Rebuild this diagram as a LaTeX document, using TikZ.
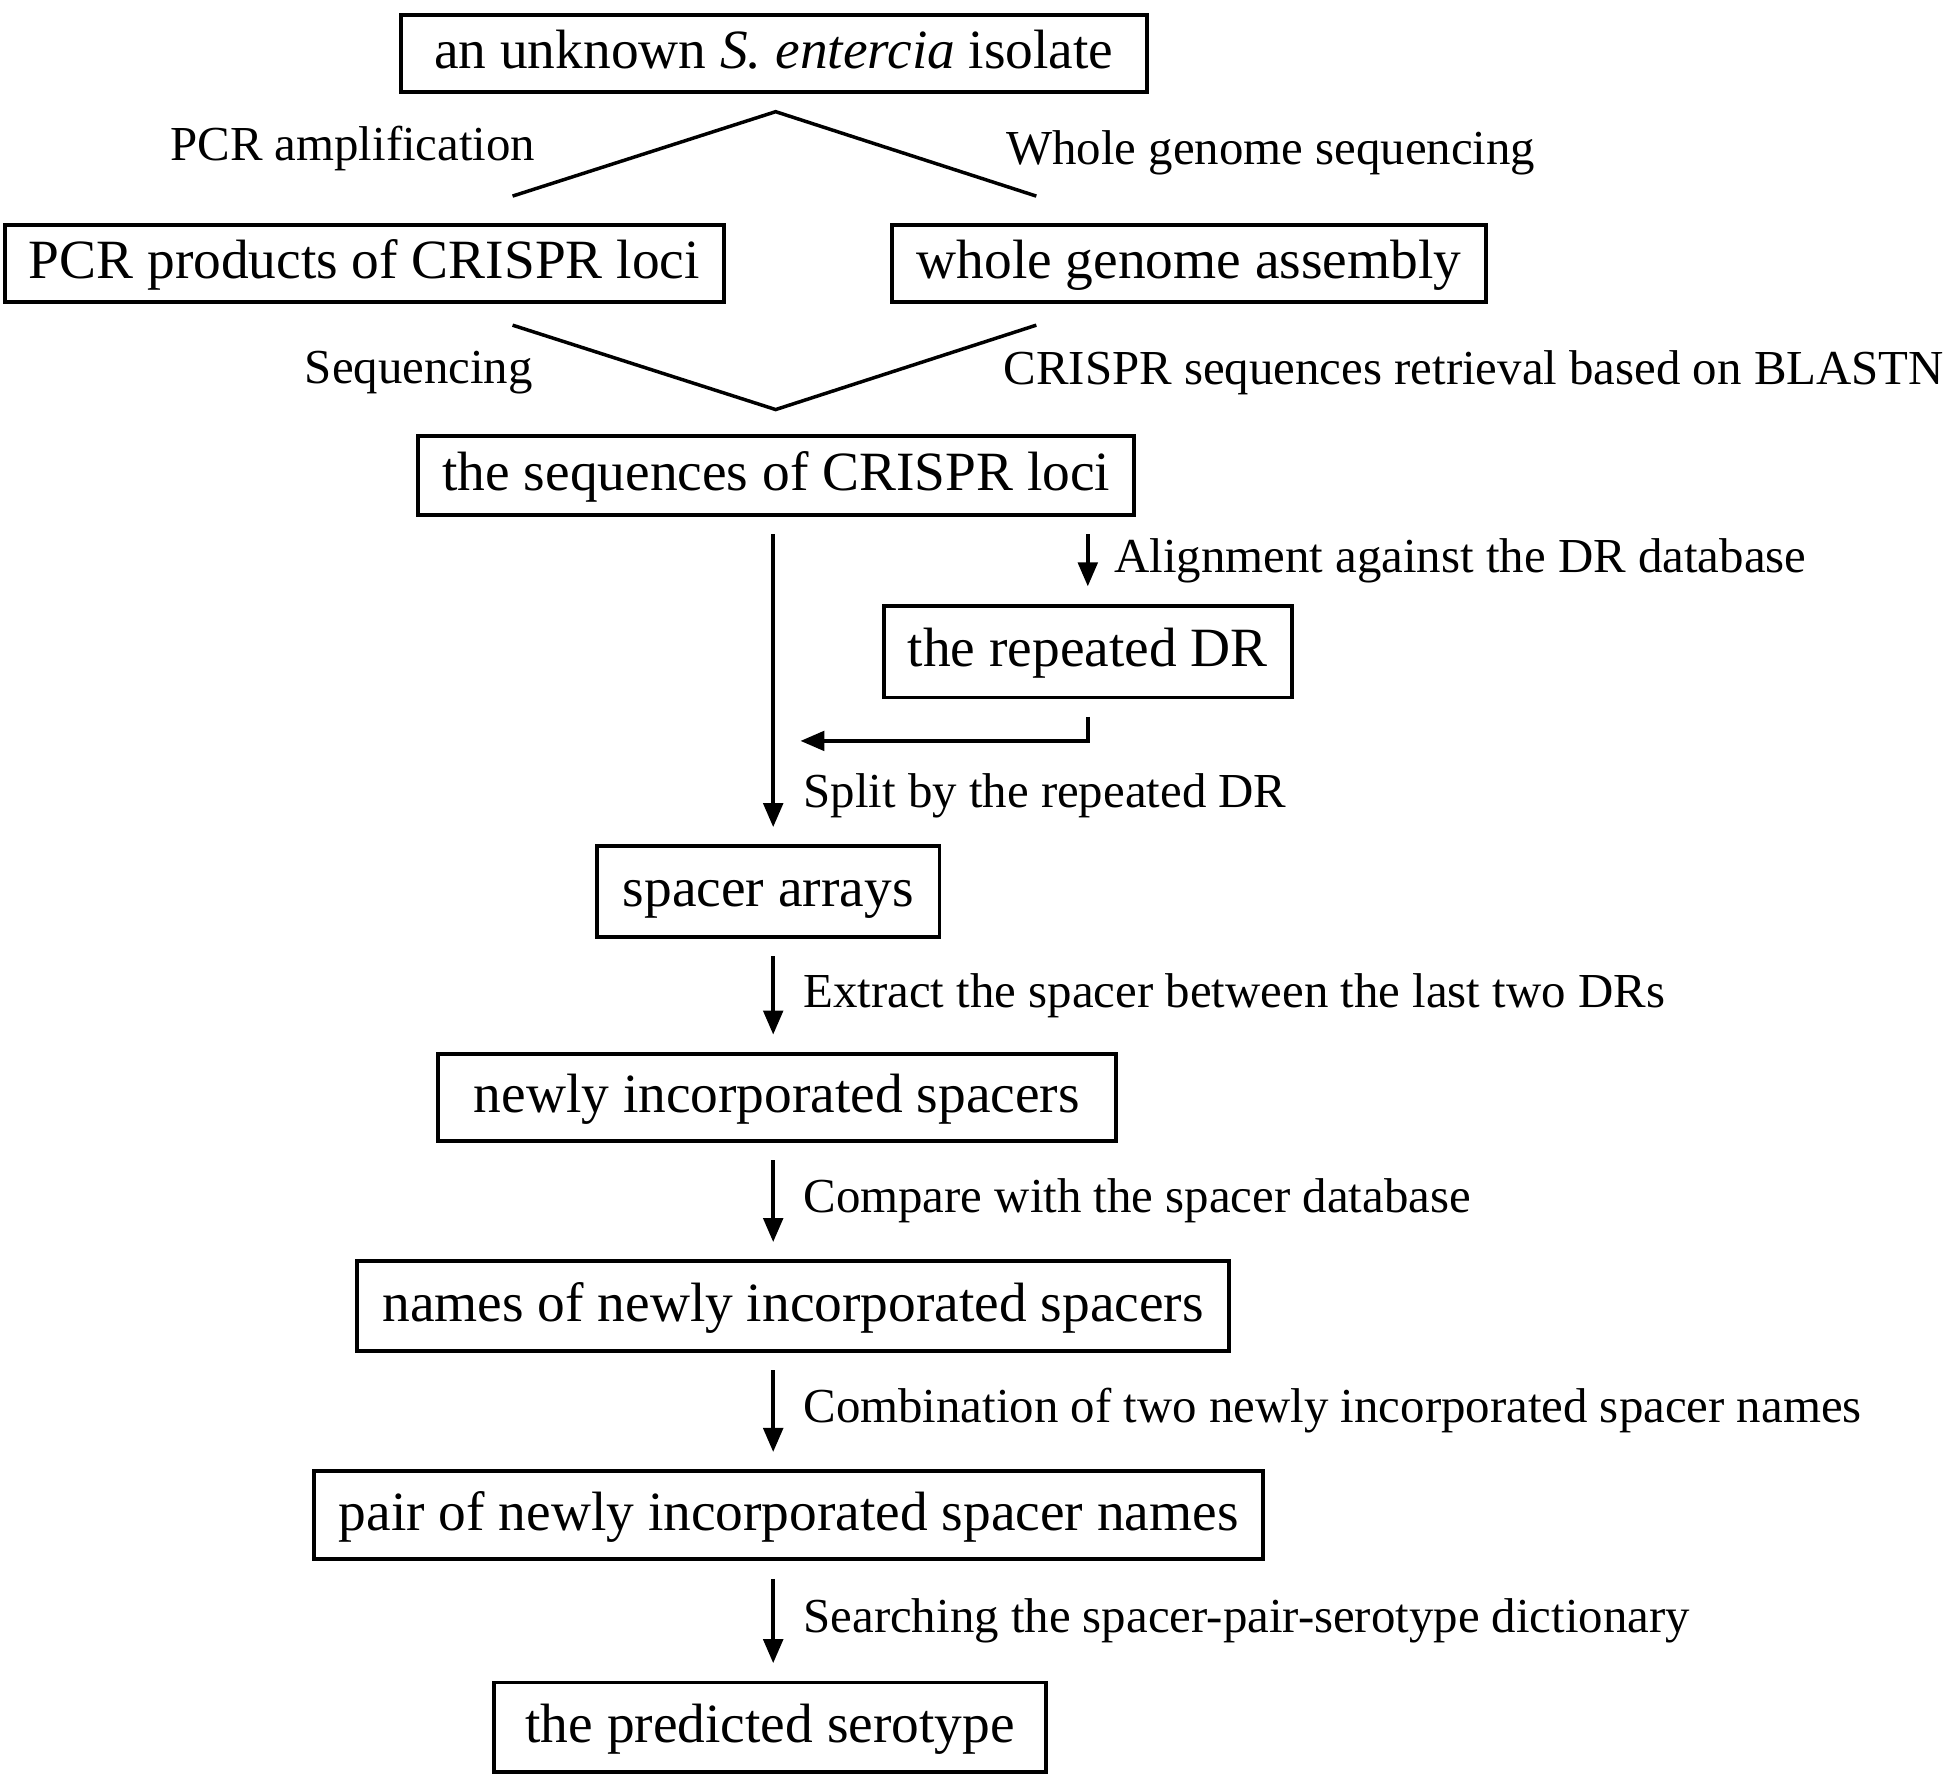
\documentclass[tikz,border=0pt]{standalone}
\usepackage{fontspec}
\setmainfont{Liberation Serif}
\usepackage{tikz}
\usetikzlibrary{arrows.meta,positioning}
\tikzstyle{block} = [rectangle, draw, line width=0.9pt, inner sep=0pt,
    minimum height=0.71cm, text height=0.7em, text depth=0pt,
    font=\fontsize{12.7}{15}\selectfont]
\tikzstyle{line} = [draw, line width=0.8pt, -{Triangle[width=4.5pt,length=5.5pt]},
    shorten <=0.14cm, shorten >=0.14cm]
\tikzstyle{note} = [inner sep=0pt, font=\fontsize{11.2}{13}\selectfont]

\begin{document}
\begin{tikzpicture}[node distance=0.94cm]
            \useasboundingbox (0,0) rectangle (15.68,-14.32);

            % Isolate and the two routes
            \node [block, minimum width=6.01cm, minimum height=0.62cm] (isolate) at (6.235,-0.43) {an unknown \textit{S. entercia} isolate};
            \node [block, minimum width=5.79cm, minimum height=0.62cm] (pcr) at (2.935,-2.12) {PCR products of CRISPR loci};
            \node [block, minimum width=4.78cm, minimum height=0.62cm] (wga) at (9.58,-2.12) {whole genome assembly};
            \node [block, minimum width=5.77cm, minimum height=0.64cm] (loci) at (6.255,-3.83) {the sequences of CRISPR loci};

            % Repeat and spacer chain
            \node [block, minimum width=3.29cm, minimum height=0.74cm] (dr) at (8.765,-5.25) {the repeated DR};
            \node [block, minimum width=2.76cm, minimum height=0.73cm] (arrays) at (6.19,-7.185) {spacer arrays};
            \node [block, minimum width=5.46cm, minimum height=0.70cm] (newsp) [below=0.91cm of arrays, xshift=0.07cm] {newly incorporated spacers};
            \node [block, minimum width=7.02cm, minimum height=0.72cm] (names) [below=of newsp, xshift=0.13cm] {names of newly incorporated spacers};
            \node [block, minimum width=7.65cm, minimum height=0.71cm] (pair) [below=of names, xshift=-0.035cm] {pair of newly incorporated spacer names};
            \node [block, minimum width=4.45cm, minimum height=0.72cm] (serotype) [below=0.96cm of pair, xshift=-0.15cm] {the predicted serotype};

            % Fork and merge
            \coordinate (apexup) at (6.25,-0.90);
            \coordinate (pcrup) at (4.13,-1.58);
            \coordinate (wgaup) at (8.35,-1.58);
            \coordinate (apexdown) at (6.25,-3.30);
            \coordinate (pcrdown) at (4.13,-2.62);
            \coordinate (wgadown) at (8.35,-2.62);
            \draw [line width=0.8pt] (pcrup) -- (apexup) -- (wgaup);
            \draw [line width=0.8pt] (pcrdown) -- (apexdown) -- (wgadown);
            \node [note, anchor=east] (pcrlab) at (4.32,-1.20) {PCR amplification};
            \node [note, anchor=west] (wgslab) at (8.10,-1.23) {Whole genome sequencing};
            \node [note, anchor=east] (seqlab) at (4.30,-3.00) {Sequencing};
            \node [note, anchor=west] (blastlab) at (8.08,-3.00) {CRISPR sequences retrieval based on BLASTN};

            % Connect everything
            \coordinate (spine) at (6.23,0);
            \coordinate (join) at (6.45,-5.97);
            \path [line] (dr.north |- loci.south) -- node[note, right, xshift=0.2cm] {Alignment against the DR database} (dr.north);
            \path [line, shorten >=0pt] (dr.south) |- (join);
            \path [line] (spine |- loci.south) -- node[note, right, pos=0.85, xshift=0.23cm] {Split by the repeated DR} (spine |- arrays.north);
            \path [line] (spine |- arrays.south) -- node[note, right, xshift=0.23cm] {Extract the spacer between the last two DRs} (spine |- newsp.north);
            \path [line] (spine |- newsp.south) -- node[note, right, xshift=0.23cm] {Compare with the spacer database} (spine |- names.north);
            \path [line] (spine |- names.south) -- node[note, right, xshift=0.23cm] {Combination of two newly incorporated spacer names} (spine |- pair.north);
            \path [line] (spine |- pair.south) -- node[note, right, xshift=0.23cm] {Searching the spacer-pair-serotype dictionary} (spine |- serotype.north);
        \end{tikzpicture}
\end{document}
